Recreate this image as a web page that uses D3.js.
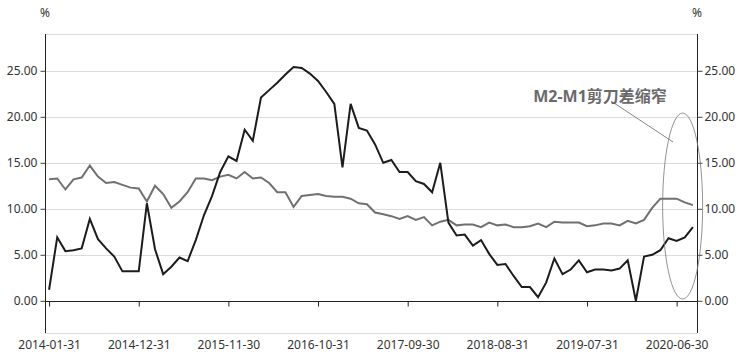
<!DOCTYPE html>
<html>
<head>
<meta charset="utf-8">
<script src="https://cdn.jsdelivr.net/npm/d3@7"></script>
<style>
  body { margin: 0; background: #fff; }
  text { font-family: "Noto Sans", "Noto Sans CJK SC", sans-serif; }
</style>
</head>
<body>
<div id="chart"></div>
<script>
// monthly, 2014-01 .. 2020-08
let m1 = [
  1.2, 6.9, 5.4, 5.5, 5.7, 8.9, 6.7, 5.7, 4.8, 3.2, 3.2, 3.2,
  10.6, 5.6, 2.9, 3.7, 4.7, 4.3, 6.6, 9.3, 11.4, 14.0, 15.7, 15.2,
  18.6, 17.4, 22.1, 22.9, 23.7, 24.6, 25.4, 25.3, 24.7, 23.9, 22.7, 21.4,
  14.5, 21.4, 18.8, 18.5, 17.0, 15.0, 15.3, 14.0, 14.0, 13.0, 12.7, 11.8,
  15.0, 8.5, 7.1, 7.2, 6.0, 6.6, 5.1, 3.9, 4.0, 2.7, 1.5, 1.5,
  0.4, 2.0, 4.6, 2.9, 3.4, 4.4, 3.1, 3.4, 3.4, 3.3, 3.5, 4.4,
  0.0, 4.8, 5.0, 5.5, 6.8, 6.5, 6.9, 8.0
]
let m2 = [
  13.2, 13.3, 12.1, 13.2, 13.4, 14.7, 13.5, 12.8, 12.9, 12.6, 12.3, 12.2,
  10.8, 12.5, 11.6, 10.1, 10.8, 11.8, 13.3, 13.3, 13.1, 13.5, 13.7, 13.3,
  14.0, 13.3, 13.4, 12.8, 11.8, 11.8, 10.2, 11.4, 11.5, 11.6, 11.4, 11.3,
  11.3, 11.1, 10.6, 10.5, 9.6, 9.4, 9.2, 8.9, 9.2, 8.8, 9.1, 8.2,
  8.6, 8.8, 8.2, 8.3, 8.3, 8.0, 8.5, 8.2, 8.3, 8.0, 8.0, 8.1,
  8.4, 8.0, 8.6, 8.5, 8.5, 8.5, 8.1, 8.2, 8.4, 8.4, 8.2, 8.7,
  8.4, 8.8, 10.1, 11.1, 11.1, 11.1, 10.7, 10.4
]
let yTicks = [0, 5, 10, 15, 20, 25]
let labelEvery = 11
let note = 'M2-M1剪刀差缩窄'

// month-end dates as category labels
let fmt = d3.utcFormat('%Y-%m-%d')
let months = d3.range(m1.length).map(i => fmt(new Date(Date.UTC(2014, i + 1, 0))))

let width = 742
let height = 361
let margin = { left: 45, right: 697, top: 34, bottom: 333 }

let svg = d3
  .select('#chart')
  .append('svg')
  .attr('width', width)
  .attr('height', height)

let x = d3.scalePoint().domain(months).range([margin.left, margin.right]).padding(0.5)
let y = d3.scaleLinear().domain([-3.5, 29]).range([margin.bottom, margin.top])

// grid
svg
  .selectAll('.grid')
  .data([y.domain()[0], ...yTicks.filter(d => d > 0), y.domain()[1]])
  .enter()
  .append('line')
  .attr('class', 'grid')
  .attr('x1', margin.left)
  .attr('x2', margin.right)
  .attr('y1', d => Math.round(y(d)) + 0.5)
  .attr('y2', d => Math.round(y(d)) + 0.5)
  .attr('stroke', '#dcdcdc')
  .attr('stroke-width', 1)

// y axes, both sides
let yLeft = svg
  .append('g')
  .attr('transform', `translate(${margin.left + 0.5},0)`)
  .call(d3.axisLeft(y).tickValues(yTicks).tickSize(5).tickPadding(3).tickFormat(d3.format('.2f')))
yLeft.select('.domain').attr('d', `M0,${margin.top}V${margin.bottom}`).attr('stroke', '#222')

let yRight = svg
  .append('g')
  .attr('transform', `translate(${margin.right + 0.5},0)`)
  .call(d3.axisRight(y).tickValues(yTicks).tickSize(5).tickPadding(2).tickFormat(d3.format('.2f')))
yRight.select('.domain').attr('d', `M0,${margin.top}V${margin.bottom}`).attr('stroke', '#222')

svg.selectAll('.tick text').attr('font-size', 12).attr('fill', '#333')
svg.selectAll('.tick line').attr('stroke', '#444')

// x axis on zero line
let x0 = Math.round(y(0)) + 0.5
let xAxis = svg
  .append('g')
  .attr('transform', `translate(0,${x0})`)
  .call(
    d3.axisBottom(x)
      .tickValues(months.filter((d, i) => i % labelEvery === 0))
      .tickSize(5)
      .tickSizeOuter(0)
  )
xAxis.select('.domain').attr('d', `M${margin.left},0H${margin.right}`).attr('stroke', '#222')
xAxis.selectAll('.tick line').attr('stroke', '#222')
xAxis
  .selectAll('.tick text')
  .attr('y', margin.bottom - x0 + 7)
  .attr('font-size', 12)
  .attr('fill', '#333')

// units
svg.append('text').attr('x', margin.left).attr('y', 17).attr('text-anchor', 'middle')
  .attr('font-size', 12).attr('fill', '#333').text('%')
svg.append('text').attr('x', margin.right).attr('y', 17).attr('text-anchor', 'middle')
  .attr('font-size', 12).attr('fill', '#333').text('%')

let line = arr => d3.line()
  .x((d, i) => x(months[i]))
  .y(d => y(d))(arr)

svg.append('path')
  .attr('d', line(m2))
  .attr('fill', 'none')
  .attr('stroke', '#707070')
  .attr('stroke-width', 2)

svg.append('path')
  .attr('d', line(m1))
  .attr('fill', 'none')
  .attr('stroke', '#1c1c1c')
  .attr('stroke-width', 2)

// annotation
let n = months.length
let cx = (x(months[n - 5]) + x(months[n - 1])) / 2 + 6
svg.append('ellipse')
  .attr('cx', cx)
  .attr('cy', y(10.3))
  .attr('rx', 20)
  .attr('ry', 93)
  .attr('fill', 'none')
  .attr('stroke', '#777')
  .attr('stroke-width', 0.8)

svg.append('line')
  .attr('x1', 611)
  .attr('y1', 101)
  .attr('x2', 673)
  .attr('y2', 142)
  .attr('stroke', '#666')
  .attr('stroke-width', 0.8)

svg.append('text')
  .attr('x', 600)
  .attr('y', 102)
  .attr('text-anchor', 'middle')
  .attr('font-size', 16)
  .attr('font-weight', 'bold')
  .attr('fill', '#6a6a6a')
  .text(note)
</script>
</body>
</html>
